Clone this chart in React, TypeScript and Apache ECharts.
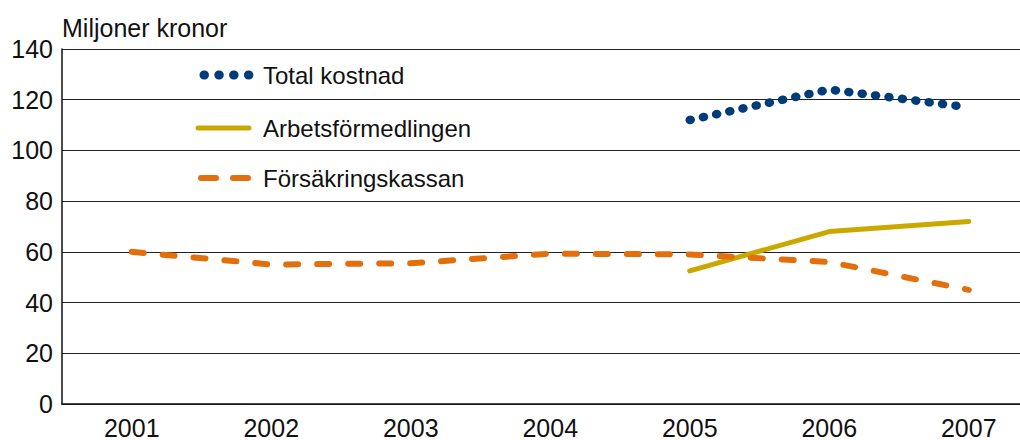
import React, { useEffect, useRef } from "react";
import * as echarts from "echarts";

const years = ["2001", "2002", "2003", "2004", "2005", "2006", "2007"];
const totalKostnad = [null, null, null, null, 112, 124, 117];
const arbetsformedlingen = [null, null, null, null, 52.5, 68, 72];
const forsakringskassan = [60, 55, 55.5, 59.3, 59, 56, 45];
const legendNames = ["Total kostnad", "Arbetsförmedlingen", "Försäkringskassan"];

const FONT = "'Liberation Sans', Arial, sans-serif";
const NAVY = "#003b7a";
const GOLD = "#c9a900";
const ORANGE = "#e36f0c";

export default function App() {
  const ref = useRef<HTMLDivElement>(null);
  useEffect(() => {
    if (!ref.current) return;
    const chart = echarts.init(ref.current, null, { renderer: "svg" });
    const legendY = [75, 128, 178];
    chart.setOption({
      animation: false,
      textStyle: { fontFamily: FONT },
      grid: { left: 62, right: 0.5, top: 49, bottom: 32 },
      xAxis: {
        type: "category",
        data: years,
        boundaryGap: true,
        axisLine: { lineStyle: { color: "#111", width: 1.5 } },
        axisTick: { show: false },
        axisLabel: { fontSize: 25, color: "#111", margin: 11, fontFamily: FONT },
      },
      yAxis: {
        type: "value",
        min: 0,
        max: 140,
        interval: 20,
        name: "Miljoner kronor",
        nameLocation: "end",
        nameGap: 9,
        nameTextStyle: { fontSize: 25, color: "#111", align: "left", fontFamily: FONT },
        axisLine: { show: true, lineStyle: { color: "#111", width: 1.5 } },
        axisTick: { show: false },
        axisLabel: { fontSize: 25, color: "#111", margin: 9, fontFamily: FONT },
        splitLine: { lineStyle: { color: "#222", width: 1 } },
      },
      graphic: [
        {
          type: "line",
          shape: { x1: 204, y1: legendY[0], x2: 249, y2: legendY[0] },
          style: { stroke: NAVY, lineWidth: 9, lineDash: [0.5, 14.3], lineCap: "round" },
        },
        {
          type: "line",
          shape: { x1: 198, y1: legendY[1], x2: 249, y2: legendY[1] },
          style: { stroke: GOLD, lineWidth: 5, lineCap: "round" },
        },
        {
          type: "line",
          shape: { x1: 201, y1: legendY[2], x2: 248, y2: legendY[2] },
          style: { stroke: ORANGE, lineWidth: 6, lineDash: [15, 17], lineCap: "round" },
        },
        ...legendNames.map((n, i) => ({
          type: "text",
          x: 263,
          y: legendY[i],
          style: {
            text: n,
            fontSize: 24,
            fontFamily: FONT,
            fill: "#111",
            verticalAlign: "middle",
            align: "left",
          },
        })),
      ],
      series: [
        {
          name: legendNames[0],
          type: "line",
          data: totalKostnad,
          showSymbol: false,
          symbol: "none",
          color: NAVY,
          lineStyle: { color: NAVY, width: 8.5, type: [1, 12.5], cap: "round" },
        },
        {
          name: legendNames[1],
          type: "line",
          data: arbetsformedlingen,
          showSymbol: false,
          symbol: "none",
          color: GOLD,
          lineStyle: { color: GOLD, width: 5, cap: "round" },
        },
        {
          name: legendNames[2],
          type: "line",
          data: forsakringskassan,
          showSymbol: false,
          symbol: "none",
          color: ORANGE,
          lineStyle: { color: ORANGE, width: 6, type: [12, 19], cap: "round" },
        },
      ],
    });
    return () => chart.dispose();
  }, []);
  return (
    <div
      style={{
        position: "fixed",
        left: 0,
        top: 0,
        width: 1020,
        height: 440,
        overflow: "hidden",
        background: "#fff",
      }}
    >
      <div ref={ref} style={{ width: 1039, height: 440 }} />
    </div>
  );
}
